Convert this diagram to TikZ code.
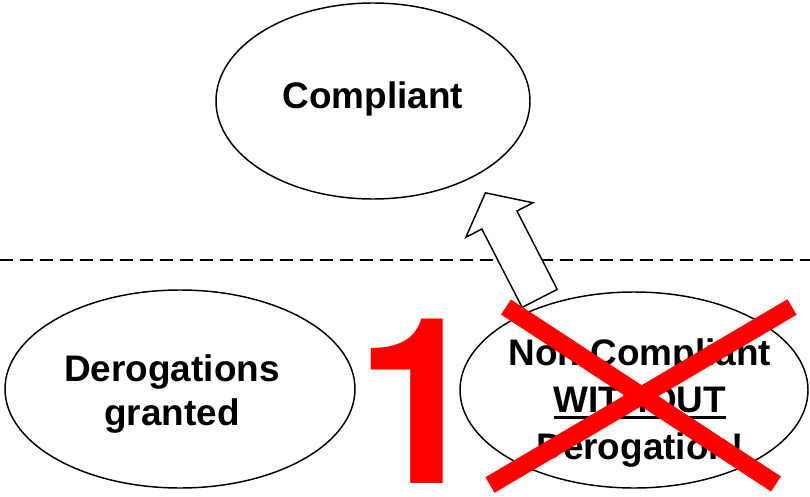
\documentclass[tikz,border=0pt]{standalone}
\usepackage{fontspec}
\setmainfont{Liberation Sans}
\newfontfamily\heros{TeX Gyre Heros}
\usetikzlibrary{shapes.geometric,shapes.arrows}
\newcommand\ulword[1]{\setbox0\hbox{#1}\rlap{\rule[-0.18em]{\wd0}{0.08em}}\box0}
\tikzset{x=0.75pt, y=-0.75pt,
  state/.style={draw, ellipse, line width=1.1pt, fill=white, inner sep=0pt},
  txt/.style={font=\fontsize{27.7}{33}\selectfont\bfseries, align=center, inner sep=0pt},
  cross/.style={draw=red, line width=13.5pt},
  bigarrow/.style={draw, fill=white, line width=1.1pt, single arrow, inner xsep=0pt,
    inner ysep=14.25pt, minimum height=89pt, single arrow head extend=13.5pt,
    single arrow tip angle=102}}

\begin{document}
\begin{tikzpicture}
\useasboundingbox (0,0) rectangle (810,496);
\node (C) [state, minimum width=235.5pt, minimum height=147pt] at (373,101) {};
\node (Ct) [txt] at (373,99) {Compliant};
\coordinate (L) at (0,260);
\coordinate (R) at (810,260);
\draw[dash pattern=on 9.75pt off 5.25pt, line width=1.1pt] (L) -- (R);
\node (A) [bigarrow, rotate=117.2, anchor=tip] at (485,192) {};
\node (D) [state, minimum width=262.5pt, minimum height=148.5pt] at (180,389) {};
\node (Dt) [txt] at (172,394) {Derogations\\granted};
\node (N) [state, minimum width=261pt, minimum height=147pt] at (634,390) {};
\node (Nt) [txt, font=\fontsize{27.7}{35.25}\selectfont\bfseries] at (640,403)
  {Non Compliant\\\ulword{WITHOUT}\\Derogation!};
\coordinate (X1) at (506,307);
\coordinate (X2) at (776,484);
\coordinate (X3) at (792,307);
\coordinate (X4) at (490,485);
\draw[cross] (X1) -- (X2);
\draw[cross] (X3) -- (X4);
\node (one) [font=\heros\fontsize{174}{174}\selectfont\bfseries, text=red, anchor=base, inner sep=0pt] at (420,483) {1};
\end{tikzpicture}
\end{document}
